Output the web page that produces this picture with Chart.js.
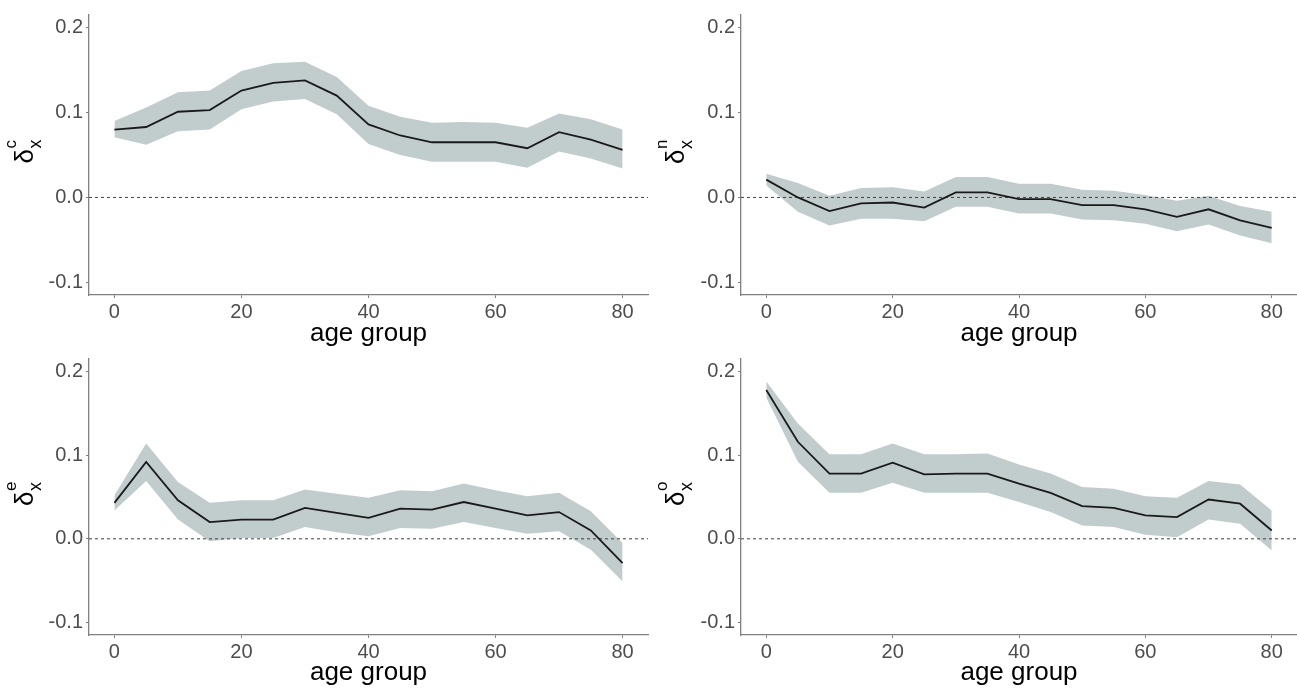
<!DOCTYPE html>
<html>
<head>
<meta charset="utf-8">
<script src="https://cdn.jsdelivr.net/npm/chart.js@4"></script>
<style>
  html, body { margin: 0; padding: 0; background: #fff; }
  body { width: 1297px; height: 688px; position: relative; overflow: hidden; }
  canvas { position: absolute; }
</style>
</head>
<body>
<canvas id="pC" width="660" height="349" style="left:0;top:0"></canvas>
<canvas id="pN" width="647" height="349" style="left:650px;top:0"></canvas>
<canvas id="pE" width="660" height="344" style="left:0;top:344px"></canvas>
<canvas id="pO" width="647" height="344" style="left:650px;top:344px"></canvas>
<script>
const ages = [0, 5, 10, 15, 20, 25, 30, 35, 40, 45, 50, 55, 60, 65, 70, 75, 80];
const xTicks = [0, 20, 40, 60, 80];
const yTicks = [-0.1, 0.0, 0.1, 0.2];

// conscientiousness
const cMid  = [0.080, 0.083, 0.101, 0.103, 0.126, 0.135, 0.138, 0.120, 0.086, 0.073, 0.065, 0.065, 0.065, 0.058, 0.077, 0.068, 0.056];
const cHigh = [0.090, 0.106, 0.124, 0.126, 0.149, 0.158, 0.160, 0.142, 0.108, 0.095, 0.088, 0.089, 0.088, 0.082, 0.099, 0.092, 0.080];
const cLow  = [0.071, 0.062, 0.078, 0.080, 0.104, 0.113, 0.116, 0.098, 0.063, 0.050, 0.042, 0.042, 0.042, 0.035, 0.054, 0.046, 0.034];

// neuroticism
const nMid  = [0.021, 0.000, -0.016, -0.007, -0.006, -0.012, 0.006, 0.006, -0.002, -0.002, -0.009, -0.009, -0.014, -0.023, -0.014, -0.027, -0.036];
const nHigh = [0.028, 0.017, 0.002, 0.011, 0.012, 0.007, 0.024, 0.024, 0.016, 0.016, 0.009, 0.008, 0.003, -0.004, 0.002, -0.010, -0.017];
const nLow  = [0.014, -0.017, -0.033, -0.025, -0.025, -0.028, -0.011, -0.011, -0.019, -0.019, -0.026, -0.027, -0.031, -0.040, -0.032, -0.045, -0.054];

// extraversion
const eMid  = [0.043, 0.092, 0.046, 0.020, 0.023, 0.023, 0.037, 0.031, 0.025, 0.036, 0.035, 0.044, 0.036, 0.028, 0.032, 0.010, -0.029];
const eHigh = [0.052, 0.114, 0.068, 0.043, 0.046, 0.046, 0.059, 0.054, 0.049, 0.058, 0.057, 0.066, 0.058, 0.051, 0.055, 0.033, -0.005];
const eLow  = [0.034, 0.069, 0.023, -0.003, 0.001, 0.001, 0.014, 0.008, 0.003, 0.013, 0.012, 0.020, 0.013, 0.006, 0.009, -0.013, -0.051];

// openness
const oMid  = [0.178, 0.116, 0.078, 0.078, 0.091, 0.077, 0.078, 0.078, 0.066, 0.055, 0.039, 0.037, 0.028, 0.026, 0.047, 0.042, 0.010];
const oHigh = [0.188, 0.138, 0.101, 0.101, 0.114, 0.101, 0.101, 0.102, 0.089, 0.078, 0.062, 0.060, 0.051, 0.049, 0.069, 0.065, 0.034];
const oLow  = [0.169, 0.092, 0.055, 0.055, 0.067, 0.055, 0.055, 0.055, 0.044, 0.032, 0.016, 0.014, 0.005, 0.002, 0.023, 0.018, -0.014];

const XMIN = -4, XMAX = 84;
const YMIN = -0.115, YMAX = 0.215;
const FONT = '"Liberation Sans", Arial, sans-serif';
const AXIS = '#808080';

// rotated delta label with stacked super/subscript
const yTitle = {
  id: 'yTitle',
  afterDraw(chart, args, opts) {
    const { ctx, chartArea } = chart;
    const cy = (chartArea.top + chartArea.bottom) / 2;
    ctx.save();
    ctx.translate(opts.x, cy);
    ctx.rotate(-Math.PI / 2);
    ctx.fillStyle = '#000';
    ctx.textBaseline = 'alphabetic';
    ctx.textAlign = 'left';
    ctx.font = '26px ' + FONT;
    const w0 = ctx.measureText('δ').width;
    ctx.font = '17px ' + FONT;
    const w1 = Math.max(ctx.measureText(opts.sup).width, ctx.measureText('x').width);
    const start = -(w0 + w1) / 2 + 3;
    ctx.font = '26px ' + FONT;
    ctx.fillText('δ', start, 0);
    ctx.font = '17px ' + FONT;
    ctx.fillText(opts.sup, start + w0 + 0.5, -17);
    ctx.font = '18px ' + FONT;
    ctx.fillText('x', start + w0 + 0.5, 8);
    ctx.restore();
  }
};

const pts = arr => ages.map((a, i) => ({ x: a, y: arr[i] }));

function makePanel(id, mid, low, high, sup, lay) {
  new Chart(document.getElementById(id), {
    type: 'line',
    data: {
      datasets: [
        // lower order = drawn on top
        { data: pts(mid), order: 0, borderColor: '#1a1a1a', borderWidth: 1.8, pointRadius: 0, fill: false },
        { data: [{ x: XMIN, y: 0 }, { x: XMAX, y: 0 }], order: 1, borderColor: '#404040', borderWidth: 1, borderDash: [3, 3], pointRadius: 0, fill: false },
        { data: pts(high), order: 2, borderWidth: 0, pointRadius: 0, fill: '+1', backgroundColor: '#C1CDCD' },
        { data: pts(low), order: 3, borderWidth: 0, pointRadius: 0, fill: false }
      ]
    },
    options: {
      responsive: false,
      animation: false,
      layout: { padding: { left: 0, right: lay.right, top: lay.top, bottom: 0 } },
      plugins: {
        legend: { display: false },
        tooltip: { enabled: false },
        yTitle: { x: lay.tx, sup: sup }
      },
      scales: {
        x: {
          type: 'linear', min: XMIN, max: XMAX,
          afterFit: s => { s.height = lay.xh; },
          afterBuildTicks: s => { s.ticks = xTicks.map(v => ({ value: v })); },
          grid: { drawOnChartArea: false, drawTicks: true, tickLength: 3, color: AXIS },
          border: { color: AXIS, width: 1.3 },
          ticks: { font: { size: 20, family: FONT }, color: '#4d4d4d', padding: 2, maxRotation: 0 },
          title: { display: true, text: 'age group', font: { size: 26, family: FONT }, color: '#000', padding: 0 }
        },
        y: {
          type: 'linear', min: YMIN, max: YMAX,
          afterFit: s => { s.width = lay.yw; },
          afterBuildTicks: s => { s.ticks = yTicks.map(v => ({ value: v })); },
          grid: { drawOnChartArea: false, drawTicks: true, tickLength: 3, color: AXIS },
          border: { color: AXIS, width: 1.3 },
          ticks: { font: { size: 20, family: FONT }, color: '#4d4d4d', padding: 3, callback: v => v.toFixed(1) }
        }
      }
    },
    plugins: [yTitle]
  });
}

makePanel('pC', cMid, cLow, cHigh, 'c', { top: 15, right: 12, xh: 54, yw: 89, tx: 33 });
makePanel('pN', nMid, nLow, nHigh, 'n', { top: 15, right: 0, xh: 54, yw: 91, tx: 34 });
makePanel('pE', eMid, eLow, eHigh, 'e', { top: 10, right: 12, xh: 53, yw: 89, tx: 33 });
makePanel('pO', oMid, oLow, oHigh, 'o', { top: 10, right: 0, xh: 53, yw: 91, tx: 34 });
</script>
</body>
</html>
